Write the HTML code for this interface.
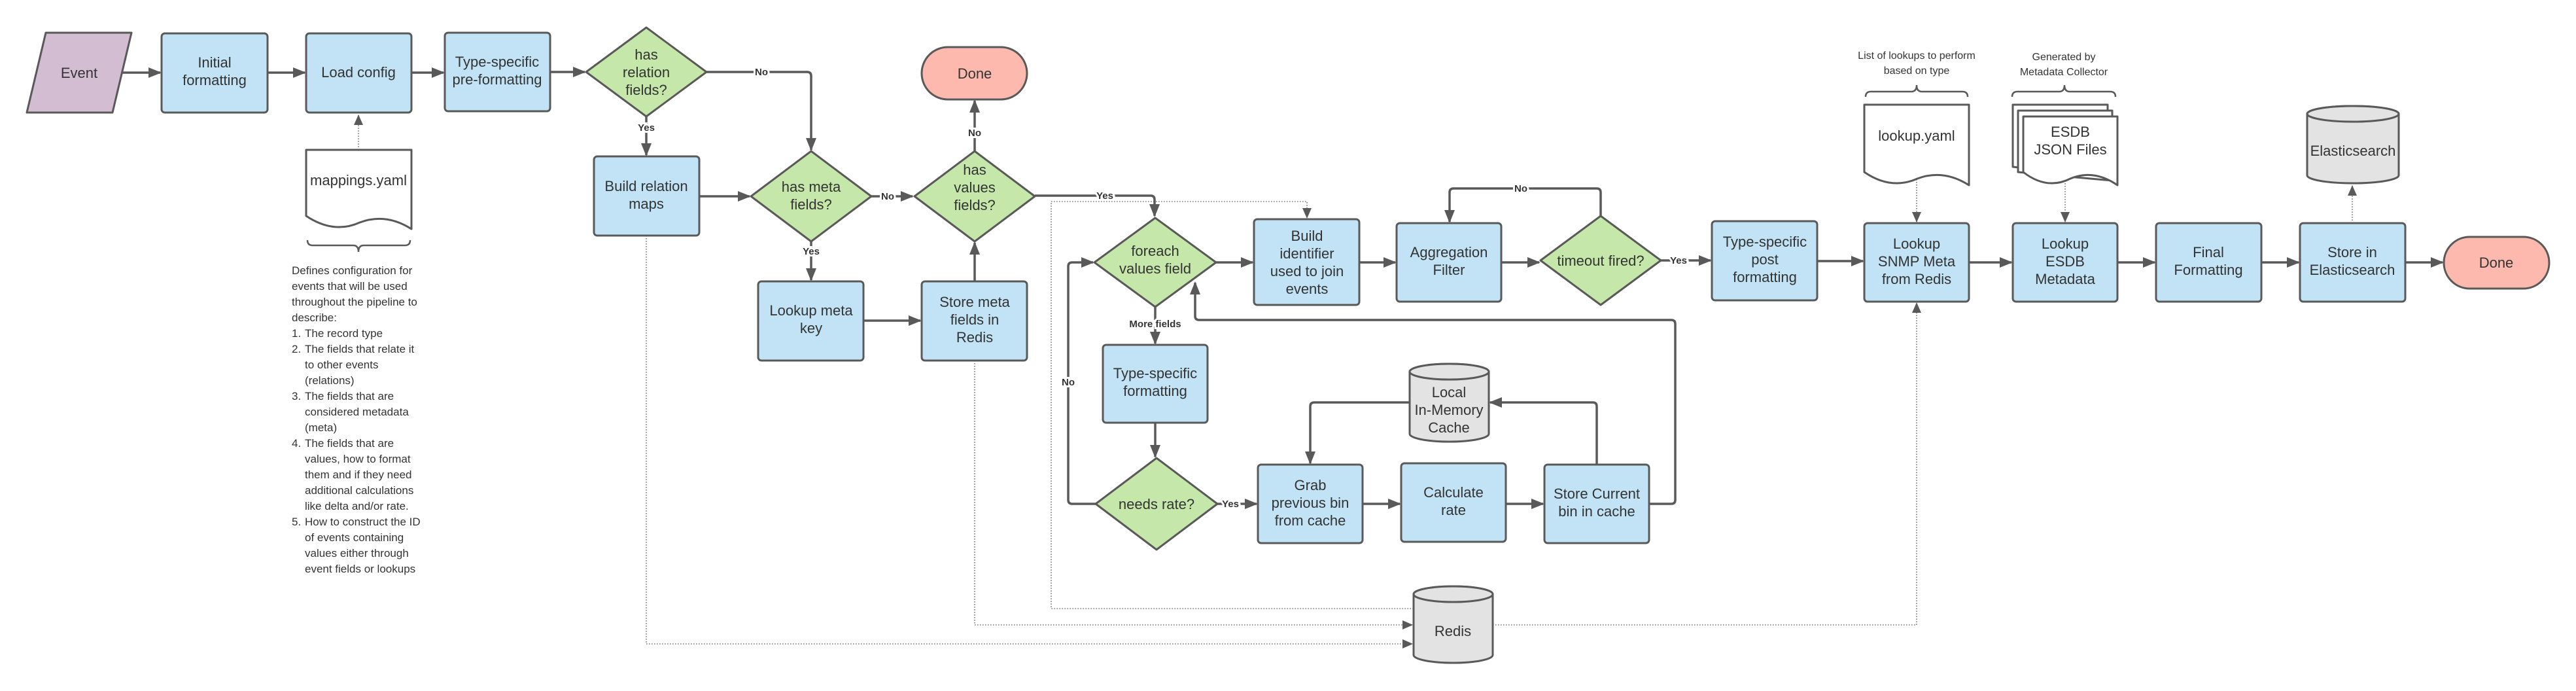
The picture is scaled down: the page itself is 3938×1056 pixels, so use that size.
<!DOCTYPE html>
<html><head><meta charset="utf-8">
<style>
html,body{margin:0;padding:0;background:#fff;}
svg{display:block;}
text{font-family:"Liberation Sans",Arial,sans-serif;fill:#333;}
.t{font-size:22px;text-anchor:middle;}
.lb{font-size:15px;font-weight:bold;text-anchor:middle;stroke:#fff;stroke-width:6px;paint-order:stroke;fill:#333;}
.box{fill:#c1e3f5;stroke:#595959;stroke-width:3;}
.dia{fill:#c5e7aa;stroke:#595959;stroke-width:3;stroke-linejoin:round;}
.cyl{fill:#e3e3e3;stroke:#595959;stroke-width:3;}
.doc{fill:#fff;stroke:#595959;stroke-width:3;stroke-linejoin:round;}
.ln{fill:none;stroke:#595959;stroke-width:3.5;stroke-linejoin:round;}
.dl{fill:none;stroke:#777;stroke-width:1.6;stroke-dasharray:1.6 2.4;}
.sm{font-size:17px;}
.an{font-size:16px;text-anchor:middle;}
</style></head>
<body>
<svg width="3938" height="1056" viewBox="0 0 3938 1056" xmlns="http://www.w3.org/2000/svg">
<defs>
<marker id="a" markerUnits="userSpaceOnUse" markerWidth="20" markerHeight="16" refX="18" refY="8" orient="auto">
<path d="M0,0 L20,8 L0,16 Z" fill="#595959"/></marker>
<marker id="d" markerUnits="userSpaceOnUse" markerWidth="16" markerHeight="14" refX="15" refY="7" orient="auto">
<path d="M0,0 L16,7 L0,14 Z" fill="#595959"/></marker>
</defs>

<!-- dotted connectors -->
<path class="dl" d="M548,229 V176" marker-end="url(#d)"/>
<path class="dl" d="M988,360 V984 H2159" marker-end="url(#d)"/>
<path class="dl" d="M1490,551 V955 H2159" marker-end="url(#d)"/>
<path class="dl" d="M2161,930 H1607 V308 H1998 V333" marker-end="url(#d)"/>
<path class="dl" d="M2282,955 H2930 V463" marker-end="url(#d)"/>
<path class="dl" d="M2930,274 V339" marker-end="url(#d)"/>
<path class="dl" d="M3157,280 V339" marker-end="url(#d)"/>
<path class="dl" d="M3596,341 V284" marker-end="url(#d)"/>

<!-- solid connectors -->
<path class="ln" d="M186,111 H245" marker-end="url(#a)"/>
<path class="ln" d="M409,111 H466" marker-end="url(#a)"/>
<path class="ln" d="M629,111 H678" marker-end="url(#a)"/>
<path class="ln" d="M841,110 H894" marker-end="url(#a)"/>
<path class="ln" d="M1080,110 H1234 Q1240,110 1240,116 V229" marker-end="url(#a)"/>
<path class="ln" d="M988,178 V237" marker-end="url(#a)"/>
<path class="ln" d="M1069,300 H1146" marker-end="url(#a)"/>
<path class="ln" d="M1332,300 H1395" marker-end="url(#a)"/>
<path class="ln" d="M1240,369 V428" marker-end="url(#a)"/>
<path class="ln" d="M1320,490 H1407" marker-end="url(#a)"/>
<path class="ln" d="M1490,430 V371" marker-end="url(#a)"/>
<path class="ln" d="M1490,231 V154" marker-end="url(#a)"/>
<path class="ln" d="M1582,299 H1759 Q1765,299 1765,305 V330" marker-end="url(#a)"/>
<path class="ln" d="M1859,401 H1915" marker-end="url(#a)"/>
<path class="ln" d="M2078,401 H2133" marker-end="url(#a)"/>
<path class="ln" d="M2295,401 H2353" marker-end="url(#a)"/>
<path class="ln" d="M2539,398 H2615" marker-end="url(#a)"/>
<path class="ln" d="M2447,330 V294 Q2447,288 2441,288 H2222 Q2216,288 2216,294 V339" marker-end="url(#a)"/>
<path class="ln" d="M2778,399 H2848" marker-end="url(#a)"/>
<path class="ln" d="M3010,401 H3075" marker-end="url(#a)"/>
<path class="ln" d="M3237,401 H3294" marker-end="url(#a)"/>
<path class="ln" d="M3457,401 H3514" marker-end="url(#a)"/>
<path class="ln" d="M3677,401 H3734" marker-end="url(#a)"/>
<path class="ln" d="M1766,469 V525" marker-end="url(#a)"/>
<path class="ln" d="M1766,646 V698" marker-end="url(#a)"/>
<path class="ln" d="M1675,770 H1639 Q1633,770 1633,764 V407 Q1633,401 1639,401 H1671" marker-end="url(#a)"/>
<path class="ln" d="M1860,770 H1921" marker-end="url(#a)"/>
<path class="ln" d="M2083,770 H2140" marker-end="url(#a)"/>
<path class="ln" d="M2302,770 H2359" marker-end="url(#a)"/>
<path class="ln" d="M2441,710 V621 Q2441,615 2435,615 H2278" marker-end="url(#a)"/>
<path class="ln" d="M2155,615 H2009 Q2003,615 2003,621 V708" marker-end="url(#a)"/>
<path class="ln" d="M2521,770 H2555 Q2561,770 2561,764 V495 Q2561,489 2555,489 H1833 Q1827,489 1827,483 V432" marker-end="url(#a)"/>

<!-- connector labels -->
<text class="lb" x="1164" y="115">No</text>
<text class="lb" x="988" y="200">Yes</text>
<text class="lb" x="1357" y="305">No</text>
<text class="lb" x="1240" y="389">Yes</text>
<text class="lb" x="1490" y="208">No</text>
<text class="lb" x="1689" y="304">Yes</text>
<text class="lb" x="1766" y="500">More fields</text>
<text class="lb" x="1633" y="589">No</text>
<text class="lb" x="1881" y="775">Yes</text>
<text class="lb" x="2325" y="293">No</text>
<text class="lb" x="2566" y="403">Yes</text>

<!-- Event -->
<polygon points="70,50 201,50 172,172 41,172" fill="#d3bdd3" stroke="#595959" stroke-width="3" stroke-linejoin="round"/>
<text class="t" x="121" y="119">Event</text>

<!-- boxes -->
<rect class="box" x="247" y="51" width="162" height="121" rx="5"/>
<text class="t" x="328" y="103">Initial</text><text class="t" x="328" y="130">formatting</text>
<rect class="box" x="468" y="51" width="161" height="121" rx="5"/>
<text class="t" x="548" y="118">Load config</text>
<rect class="box" x="680" y="50" width="161" height="120" rx="5"/>
<text class="t" x="760" y="102">Type-specific</text><text class="t" x="760" y="129">pre-formatting</text>
<rect class="box" x="908" y="239" width="161" height="121" rx="5"/>
<text class="t" x="988" y="292">Build relation</text><text class="t" x="988" y="319">maps</text>
<rect class="box" x="1159" y="430" width="161" height="121" rx="5"/>
<text class="t" x="1240" y="482">Lookup meta</text><text class="t" x="1240" y="509">key</text>
<rect class="box" x="1409" y="430" width="161" height="121" rx="5"/>
<text class="t" x="1490" y="469">Store meta</text><text class="t" x="1490" y="496">fields in</text><text class="t" x="1490" y="523">Redis</text>
<rect class="box" x="1917" y="335" width="161" height="131" rx="5"/>
<text class="t" x="1998" y="368">Build</text><text class="t" x="1998" y="395">identifier</text><text class="t" x="1998" y="422">used to join</text><text class="t" x="1998" y="449">events</text>
<rect class="box" x="1686" y="527" width="160" height="119" rx="5"/>
<text class="t" x="1766" y="578">Type-specific</text><text class="t" x="1766" y="605">formatting</text>
<rect class="box" x="1923" y="710" width="160" height="120" rx="5"/>
<text class="t" x="2003" y="749">Grab</text><text class="t" x="2003" y="776">previous bin</text><text class="t" x="2003" y="803">from cache</text>
<rect class="box" x="2135" y="341" width="160" height="120" rx="5"/>
<text class="t" x="2215" y="393">Aggregation</text><text class="t" x="2215" y="420">Filter</text>
<rect class="box" x="2142" y="708" width="160" height="120" rx="5"/>
<text class="t" x="2222" y="760">Calculate</text><text class="t" x="2222" y="787">rate</text>
<rect class="box" x="2361" y="710" width="160" height="120" rx="5"/>
<text class="t" x="2441" y="762">Store Current</text><text class="t" x="2441" y="789">bin in cache</text>
<rect class="box" x="2617" y="338" width="161" height="121" rx="5"/>
<text class="t" x="2698" y="377">Type-specific</text><text class="t" x="2698" y="404">post</text><text class="t" x="2698" y="431">formatting</text>
<rect class="box" x="2850" y="341" width="160" height="120" rx="5"/>
<text class="t" x="2930" y="380">Lookup</text><text class="t" x="2930" y="407">SNMP Meta</text><text class="t" x="2930" y="434">from Redis</text>
<rect class="box" x="3077" y="341" width="160" height="120" rx="5"/>
<text class="t" x="3157" y="380">Lookup</text><text class="t" x="3157" y="407">ESDB</text><text class="t" x="3157" y="434">Metadata</text>
<rect class="box" x="3296" y="341" width="161" height="120" rx="5"/>
<text class="t" x="3376" y="393">Final</text><text class="t" x="3376" y="420">Formatting</text>
<rect class="box" x="3516" y="341" width="161" height="120" rx="5"/>
<text class="t" x="3596" y="393">Store in</text><text class="t" x="3596" y="420">Elasticsearch</text>

<!-- Done -->
<rect x="1409" y="72" width="161" height="80" rx="40" fill="#fdb9ae" stroke="#595959" stroke-width="3"/>
<text class="t" x="1490" y="120">Done</text>
<rect x="3736" y="362" width="161" height="79" rx="39.5" fill="#fdb9ae" stroke="#595959" stroke-width="3"/>
<text class="t" x="3816" y="409">Done</text>

<!-- diamonds -->
<polygon class="dia" points="988,42 1080,110 988,178 896,110"/>
<text class="t" x="988" y="91">has</text><text class="t" x="988" y="118">relation</text><text class="t" x="988" y="145">fields?</text>
<polygon class="dia" points="1240,231 1332,300 1240,369 1148,300"/>
<text class="t" x="1240" y="293">has meta</text><text class="t" x="1240" y="320">fields?</text>
<polygon class="dia" points="1490,231 1582,300 1490,369 1398,300"/>
<text class="t" x="1490" y="267">has</text><text class="t" x="1490" y="294">values</text><text class="t" x="1490" y="321">fields?</text>
<polygon class="dia" points="1766,333 1859,401 1766,469 1673,401"/>
<text class="t" x="1766" y="391">foreach</text><text class="t" x="1766" y="418">values field</text>
<polygon class="dia" points="1768,700 1861,770 1768,840 1675,770"/>
<text class="t" x="1768" y="778">needs rate?</text>
<polygon class="dia" points="2447,330 2539,398 2447,466 2355,398"/>
<text class="t" x="2447" y="406">timeout fired?</text>

<!-- cylinders -->
<path class="cyl" d="M2155,568 A60.5,12 0 0 1 2276,568 V663 A60.5,12 0 0 1 2155,663 Z"/>
<ellipse class="cyl" cx="2215.5" cy="568" rx="60.5" ry="12"/>
<text class="t" x="2215" y="607">Local</text><text class="t" x="2215" y="634">In-Memory</text><text class="t" x="2215" y="661">Cache</text>
<path class="cyl" d="M2161,908 A60.5,12 0 0 1 2282,908 V1001 A60.5,12 0 0 1 2161,1001 Z"/>
<ellipse class="cyl" cx="2221.5" cy="908" rx="60.5" ry="12"/>
<text class="t" x="2221" y="972">Redis</text>
<path class="cyl" d="M3527,174 A70,12 0 0 1 3667,174 V268 A70,12 0 0 1 3527,268 Z"/>
<ellipse class="cyl" cx="3597" cy="174" rx="70" ry="12"/>
<text class="t" x="3597" y="238">Elasticsearch</text>

<!-- documents -->
<path class="doc" d="M468,229 H629 V350 Q590,325 550,340 Q510,358 468,330 Z"/>
<text class="t" x="548" y="283">mappings.yaml</text>
<path class="doc" d="M2850,160 H3010 V283 Q2971,258 2931,273 Q2891,291 2850,263 Z"/>
<text class="t" x="2930" y="215">lookup.yaml</text>
<path class="doc" d="M3077,160 H3222 V270 L3077,255 Z"/>
<path class="doc" d="M3085,169 H3229 V276 L3085,263 Z"/>
<path class="doc" d="M3093,178 H3237 V283 Q3201,258 3165,273 Q3129,291 3093,263 Z"/>
<text class="t" x="3165" y="209">ESDB</text><text class="t" x="3165" y="236">JSON Files</text>

<!-- braces -->
<path fill="none" stroke="#595959" stroke-width="2.5" d="M470,367 q0,8 8,8 H540 q8,0 8,10 q0,-10 8,-10 H619 q8,0 8,-8"/>
<path fill="none" stroke="#595959" stroke-width="2.5" d="M2852,148 q0,-8 8,-8 H2922 q8,0 8,-10 q0,10 8,10 H3000 q8,0 8,8"/>
<path fill="none" stroke="#595959" stroke-width="2.5" d="M3076,148 q0,-8 8,-8 H3148 q8,0 8,-10 q0,10 8,10 H3226 q8,0 8,8"/>

<!-- annotations -->
<text class="an" x="2930" y="90">List of lookups to perform</text>
<text class="an" x="2930" y="113">based on type</text>
<text class="an" x="3155" y="92">Generated by</text>
<text class="an" x="3155" y="115">Metadata Collector</text>

<g class="sm">
<text x="446" y="419">Defines configuration for</text>
<text x="446" y="443">events that will be used</text>
<text x="446" y="467">throughout the pipeline to</text>
<text x="446" y="491">describe:</text>
<text x="446" y="515">1.</text><text x="466" y="515">The record type</text>
<text x="446" y="539">2.</text><text x="466" y="539">The fields that relate it</text>
<text x="466" y="563">to other events</text>
<text x="466" y="587">(relations)</text>
<text x="446" y="611">3.</text><text x="466" y="611">The fields that are</text>
<text x="466" y="635">considered metadata</text>
<text x="466" y="659">(meta)</text>
<text x="446" y="683">4.</text><text x="466" y="683">The fields that are</text>
<text x="466" y="707">values, how to format</text>
<text x="466" y="731">them and if they need</text>
<text x="466" y="755">additional calculations</text>
<text x="466" y="779">like delta and/or rate.</text>
<text x="446" y="803">5.</text><text x="466" y="803">How to construct the ID</text>
<text x="466" y="827">of events containing</text>
<text x="466" y="851">values either through</text>
<text x="466" y="875">event fields or lookups</text>
</g>
</svg>
</body></html>
